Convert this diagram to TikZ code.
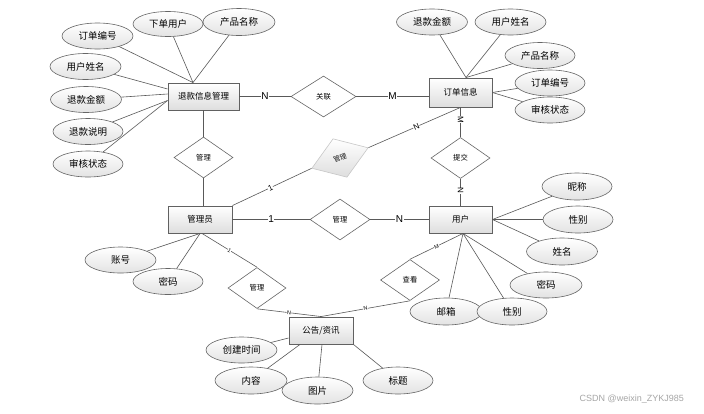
\documentclass[tikz,border=0pt]{standalone}
\usepackage{fontspec}
\setmainfont{Noto Sans CJK SC}
\newfontfamily\latf{Liberation Sans}
\usetikzlibrary{shapes.geometric,calc}
\begin{document}
\begin{tikzpicture}[x=1pt,y=-1pt,
  ent/.style={rectangle, draw=black!62, line width=0.9pt, top color=white, bottom color=black!13, minimum width=64pt, minimum height=27pt, inner sep=0pt, font=\fontsize{8.5}{9}\selectfont},
  attr/.style={ellipse, draw=black!60, line width=0.6pt, top color=white, bottom color=black!11, minimum width=71pt, minimum height=26pt, inner sep=0pt, font=\fontsize{9.5}{10}\selectfont},
  rel/.style={diamond, draw=black!60, line width=0.6pt, fill=white, minimum width=60pt, minimum height=41pt, inner sep=0pt, font=\fontsize{7.3}{8}\selectfont},
  conn/.style={draw=black!65, line width=0.6pt},
  card/.style={fill=white, inner sep=0.6pt, font=\latf\fontsize{10}{10}\selectfont},
  cardm/.style={fill=white, inner sep=0.4pt, font=\latf\fontsize{8}{8}\selectfont},
  cards/.style={fill=white, inner sep=0.3pt, font=\latf\fontsize{5.5}{6}\selectfont},
]
\fill[white] (0,0) rectangle (704,413);
\useasboundingbox (0,0) rectangle (704,413);

% entities
\node[ent, minimum width=71pt] (tk) at (203.5,96.5) {退款信息管理};
\node[ent, minimum width=63pt, minimum height=29pt] (dd) at (460.5,92.5) {订单信息};
\node[ent] (gly) at (200,219.5) {管理员};
\node[ent, minimum width=63pt] (yh) at (460.5,219.5) {用户};
\node[ent] (gg) at (321,330.5) {公告/资讯};

% relationships
\node[rel, minimum width=65pt] (gl) at (323.5,96.5) {关联};
\node[rel, minimum width=59pt] (gl1) at (203.5,157.5) {管理};
\node[rel, rotate=20, draw=black!22, top color=white, bottom color=black!13, text=black!90, font=\fontsize{6.8}{7}\selectfont] (gl2) at (340,158) {管理};
\node[rel, minimum width=59pt] (tj) at (460.5,158) {提交};
\node[rel] (gl3) at (340,219.5) {管理};
\node[rel, minimum width=58pt] (gl4) at (257,288) {管理};
\node[rel, minimum width=59pt] (ck) at (410,280) {查看};

% attributes of 退款信息管理
\node[attr] (a1) at (97.5,36) {订单编号};
\node[attr, minimum width=70pt, minimum height=25pt] (a2) at (168,24) {下单用户};
\node[attr, minimum width=72pt, minimum height=27pt] (a3) at (239,22) {产品名称};
\node[attr] (a4) at (85.5,66.5) {用户姓名};
\node[attr] (a5) at (86,99.5) {退款金额};
\node[attr, minimum width=70pt] (a6) at (88,131.5) {退款说明};
\node[attr, minimum width=70pt] (a7) at (88,164) {审核状态};

% attributes of 订单信息
\node[attr] (b1) at (432,22) {退款金额};
\node[attr] (b2) at (510.5,22) {用户姓名};
\node[attr, minimum width=70pt] (b3) at (540,55.5) {产品名称};
\node[attr, minimum width=70pt] (b4) at (550,83) {订单编号};
\node[attr, minimum width=70pt] (b5) at (550,110) {审核状态};

% attributes of 管理员
\node[attr] (c1) at (120.5,260) {账号};
\node[attr, minimum width=70pt] (c2) at (168,281.5) {密码};

% attributes of 用户
\node[attr, minimum width=70pt, minimum height=27pt] (d1) at (577,186.5) {昵称};
\node[attr, minimum width=70pt, minimum height=27pt] (d2) at (578,219.5) {性别};
\node[attr, minimum height=27pt] (d3) at (562,251.5) {姓名};
\node[attr, minimum width=72pt] (d4) at (546,285) {密码};
\node[attr, minimum width=72pt, minimum height=27pt] (d5) at (446,311.5) {邮箱};
\node[attr, minimum width=70pt, minimum height=27pt] (d6) at (512,311.5) {性别};

% attributes of 公告/资讯
\node[attr] (e1) at (241.5,350) {创建时间};
\node[attr, minimum width=72pt, minimum height=27pt] (e2) at (251,380.5) {内容};
\node[attr, minimum width=71pt, minimum height=27pt] (e3) at (317.5,390.5) {图片};
\node[attr, minimum width=70pt, minimum height=27pt] (e4) at (398,380.5) {标题};

% attribute connectors
\draw[conn] (a1) -- ([xshift=-10.5pt]tk.north);
\draw[conn] (a2) -- ([xshift=-10.5pt]tk.north);
\draw[conn] (a3) -- ([xshift=-10.5pt]tk.north);
\draw[conn] (a4) -- ([yshift=7.5pt]tk.west);
\draw[conn] (a5) -- ([yshift=2.5pt]tk.west);
\draw[conn] (a6) -- ([yshift=-4pt]tk.west);
\draw[conn] (a7) -- ([yshift=-4pt]tk.west);

\draw[conn] (b1) -- ([xshift=5.5pt]dd.north);
\draw[conn] (b2) -- ([xshift=5.5pt]dd.north);
\draw[conn] (b3) -- ([xshift=5.5pt]dd.north);
\draw[conn] (b4) -- (dd.east);
\draw[conn] (b5) -- (dd.east);

\draw[conn] (c1) -- (gly.south);
\draw[conn] (c2) -- (gly.south);

\draw[conn] (d1) -- (yh.east);
\draw[conn] (d2) -- (yh.east);
\draw[conn] (d3) -- (yh.east);
\draw[conn] (d4) -- ([xshift=2.5pt]yh.south);
\draw[conn] (d5) -- ([xshift=2.5pt]yh.south);
\draw[conn] (d6) -- ([xshift=2.5pt]yh.south);

\draw[conn] (e1) -- ([yshift=-7.5pt]gg.west);
\draw[conn] (e2) -- ([xshift=-21pt]gg.south);
\draw[conn] (e3) -- ([xshift=1pt]gg.south);
\draw[conn] (e4) -- (gg.south east);

% relationship connectors
\draw[conn] (tk.east) -- node[card]{N} (gl.west);
\draw[conn] (gl.east) -- node[card]{M} (gl.east -| dd.west);
\draw[conn] (gl1.north) -- (tk.south);
\draw[conn] (gl1.south) -- (gl1.south |- gly.north);
\draw[conn] (gly.east) -- node[card]{1} (gl3.west);
\draw[conn] (gl3.east) -- node[card]{N} (yh.west);
\draw[conn] (gly.north east) -- node[cardm, sloped, pos=0.48]{1} (gl2.west);
\draw[conn] (gl2.east) -- node[cardm, sloped, pos=0.52]{N} (dd.south);
\draw[conn] (dd.south) -- node[cardm, rotate=-90, pos=0.4]{M} (tj.north);
\draw[conn] (tj.south) -- node[cardm, rotate=-90, pos=0.45]{N} (yh.north);
\draw[conn] ([xshift=2.5pt]yh.south) -- node[cards, sloped]{M} (ck.north);
\draw[conn] ([xshift=2pt]gly.south) -- node[cards, sloped]{1} (gl4.north);
\draw[conn] (gl4.south) -- node[cards, sloped]{N} (gg.north);
\draw[conn] (ck.south) -- node[cards, sloped]{N} (gg.north);

% watermark
\node[font=\latf\fontsize{9}{10}\selectfont, text=black!35, anchor=east, inner sep=0pt] (wm) at (684,399) {CSDN @weixin\_ZYKJ985};
\end{tikzpicture}
\end{document}
